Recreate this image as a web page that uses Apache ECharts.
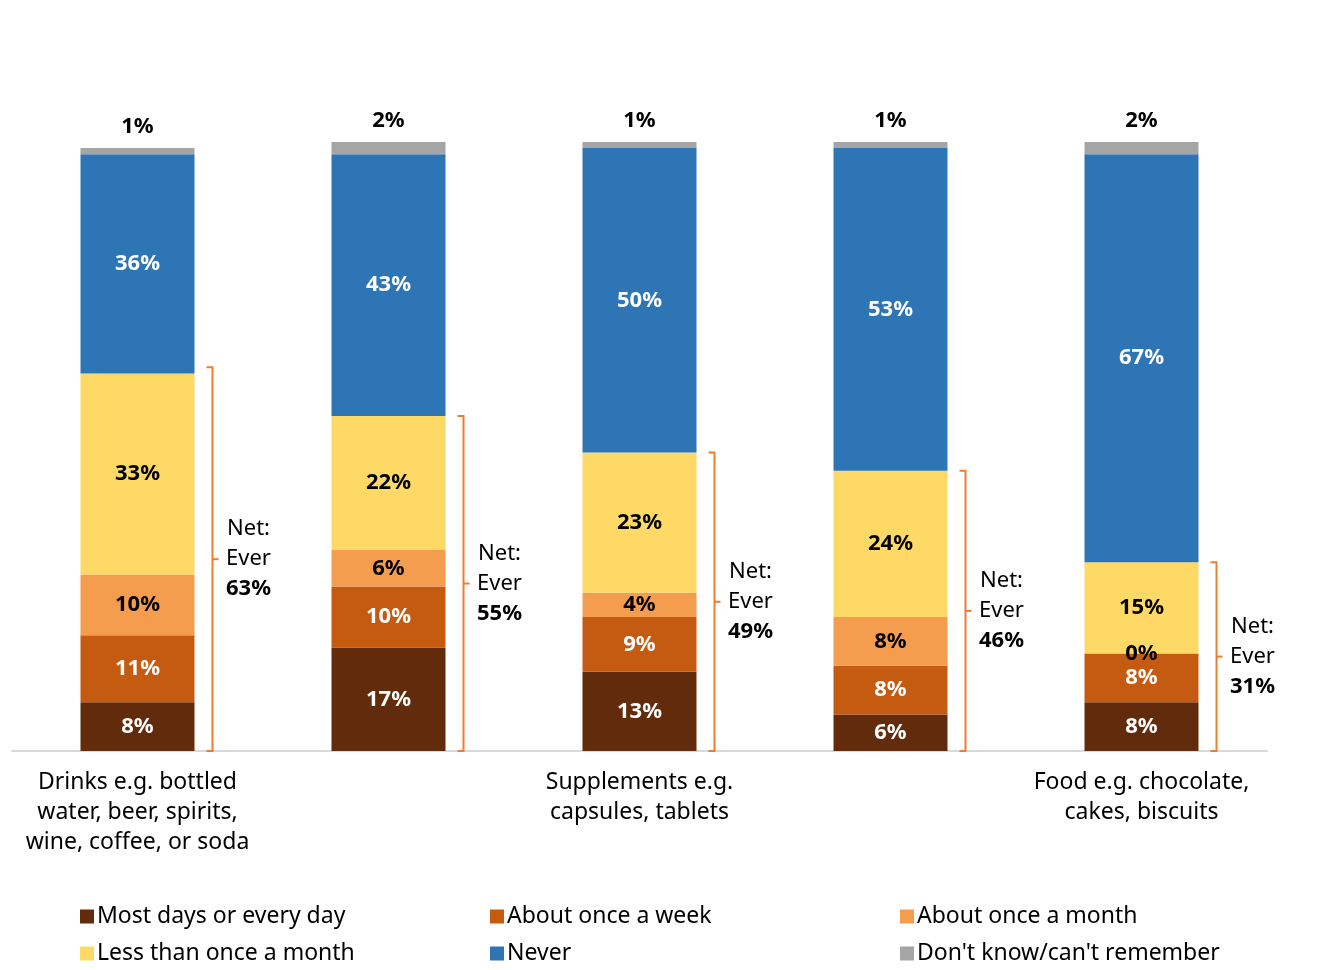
<!DOCTYPE html>
<html>
<head>
<meta charset="utf-8">
<script src="https://cdn.jsdelivr.net/npm/echarts@6/dist/echarts.min.js"></script>
<style>html,body{margin:0;padding:0;background:#fff}#main{width:1327px;height:970px}</style>
</head>
<body>
<div id="main"></div>
<script>
var categories = ['Drinks e.g. bottled\nwater, beer, spirits,\nwine, coffee, or soda', 'Oils e.g. drops,\nsyrups, olive oils', 'Supplements e.g.\ncapsules, tablets', 'Chewables e.g.\ngummies', 'Food e.g. chocolate,\ncakes, biscuits'];
var mostDays = [8, 17, 13, 6, 8];
var onceWeek = [11, 10, 9, 8, 8];
var onceMonth = [10, 6, 4, 8, 0];
var lessMonth = [33, 22, 23, 24, 15];
var never = [36, 43, 50, 53, 67];
var dontKnow = [1, 2, 1, 1, 2];
var netEver = [63, 55, 49, 46, 31];

var font = 'Noto Sans';
var chart = echarts.init(document.getElementById('main'));

function barSeries(name, data, color, labelColor, pos) {
  return {
    name: name, type: 'bar', stack: 'all', data: data, barWidth: 114,
    itemStyle: { color: color },
    label: {
      show: true, position: pos || 'inside', color: labelColor,
      fontFamily: font, fontWeight: 'bold', fontSize: 22,
      distance: 10, formatter: '{c}%'
    }
  };
}

var names = ['Most days or every day', 'About once a week', 'About once a month', 'Less than once a month', 'Never', "Don't know/can't remember"];
var legendPos = [[75, 900], [485, 900], [895, 900], [75, 937], [485, 937], [895, 937]];
var legends = names.map(function (n, i) {
  return {
    data: [n], left: legendPos[i][0], top: legendPos[i][1],
    itemWidth: 14, itemHeight: 14, icon: 'rect', itemGap: 6,
    textStyle: { fontFamily: font, fontSize: 23, color: '#000', padding: [0, 0, 0, -2] }
  };
});

var option = {
  animation: false,
  legend: legends,
  grid: { left: 12, right: 60, top: 142, bottom: 219 },
  xAxis: {
    type: 'category', data: categories,
    axisLine: { lineStyle: { color: '#d9d9d9', width: 2 } },
    axisTick: { show: false },
    axisLabel: { fontFamily: font, fontSize: 23, color: '#000', lineHeight: 30, margin: 16 }
  },
  yAxis: { type: 'value', min: 0, max: 100, show: false, splitLine: { show: false } },
  series: [
    barSeries(names[0], mostDays, '#622b0b', '#fff'),
    barSeries(names[1], onceWeek, '#c55a11', '#fff'),
    barSeries(names[2], onceMonth, '#f59d4f', '#000'),
    barSeries(names[3], lessMonth, '#ffd966', '#000'),
    barSeries(names[4], never, '#2e75b6', '#fff'),
    barSeries(names[5], dontKnow, '#a5a5a5', '#000', 'top'),
    {
      type: 'custom', silent: true,
      data: netEver.map(function (v, i) { return [i, v]; }),
      renderItem: function (params, api) {
        var top = api.coord([api.value(0), api.value(1)]);
        var bot = api.coord([api.value(0), 0]);
        var cx = top[0], y0 = top[1], y1 = bot[1], ym = (y0 + y1) / 2;
        var st = { stroke: '#ed7d31', lineWidth: 2, fill: null };
        return {
          type: 'group', children: [
            { type: 'polyline', shape: { points: [[cx + 69, y0], [cx + 75, y0], [cx + 75, y1], [cx + 69, y1]] }, style: st },
            { type: 'line', shape: { x1: cx + 75, y1: ym, x2: cx + 81, y2: ym }, style: st },
            {
              type: 'text', x: cx + 111, y: ym,
              style: {
                text: 'Net:\nEver\n{b|' + api.value(1) + '%}',
                rich: { b: { fontWeight: 'bold', fontSize: 22, fontFamily: font, lineHeight: 30 } },
                fontFamily: font, fontSize: 22, lineHeight: 30, fill: '#000',
                align: 'center', verticalAlign: 'middle'
              }
            }
          ]
        };
      }
    }
  ]
};
chart.setOption(option);
</script>
</body>
</html>
